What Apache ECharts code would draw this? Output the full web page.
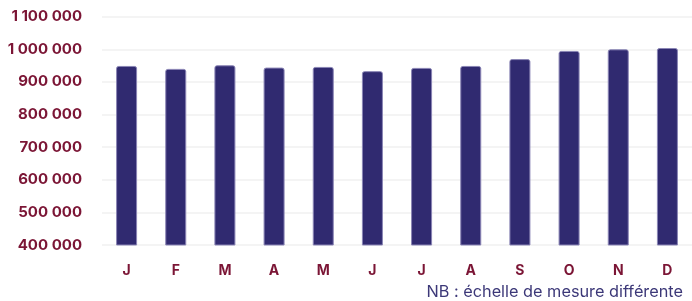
<!DOCTYPE html>
<html><head><meta charset="utf-8">
<script src="https://cdn.jsdelivr.net/npm/echarts@6/dist/echarts.min.js"></script>
<style>html,body{margin:0;padding:0;background:#fff}#c{width:692px;height:301px}</style>
</head><body><div id="c"></div>
<script>
const categories = ['J','F','M','A','M','J','J','A','S','O','N','D'];
const values = [949000, 940000, 951000, 944000, 946000, 933000, 943000, 949000, 970000, 995000, 1000000, 1004000];
const yMin = 400000, yMax = 1100000, yStep = 100000;
const note = 'NB : échelle de mesure différente';

function fmt(v){ return String(v).replace(/\B(?=(\d{3})+(?!\d))/g, ' '); }

const chart = echarts.init(document.getElementById('c'));
chart.setOption({
  animation: false,
  grid: { left: 102, right: -4, top: 16.7, bottom: 56, containLabel: false },
  xAxis: {
    type: 'category', data: categories,
    axisLine: { show: false }, axisTick: { show: false },
    axisLabel: { color: '#7b1535', fontFamily: 'Inter', fontWeight: 700, fontSize: 14, margin: 19 }
  },
  yAxis: {
    type: 'value', min: yMin, max: yMax, interval: yStep,
    axisLine: { show: false }, axisTick: { show: false },
    splitLine: { lineStyle: { color: '#f4f4f4', width: 2 } },
    axisLabel: { color: '#7b1535', fontFamily: 'Inter', fontWeight: 700, fontSize: 15, margin: 20, formatter: fmt }
  },
  series: [{
    type: 'bar', data: values, barWidth: 21,
    itemStyle: { color: '#302a70', borderColor: '#8a85b5', borderWidth: 1, borderRadius: [2,2,0,0] }
  }],
  graphic: [{
    type: 'text', right: 9, top: 284,
    style: { text: note, fill: '#3c3878', font: '16.3px Inter', textAlign: 'right' }
  }]
});
</script></body></html>
